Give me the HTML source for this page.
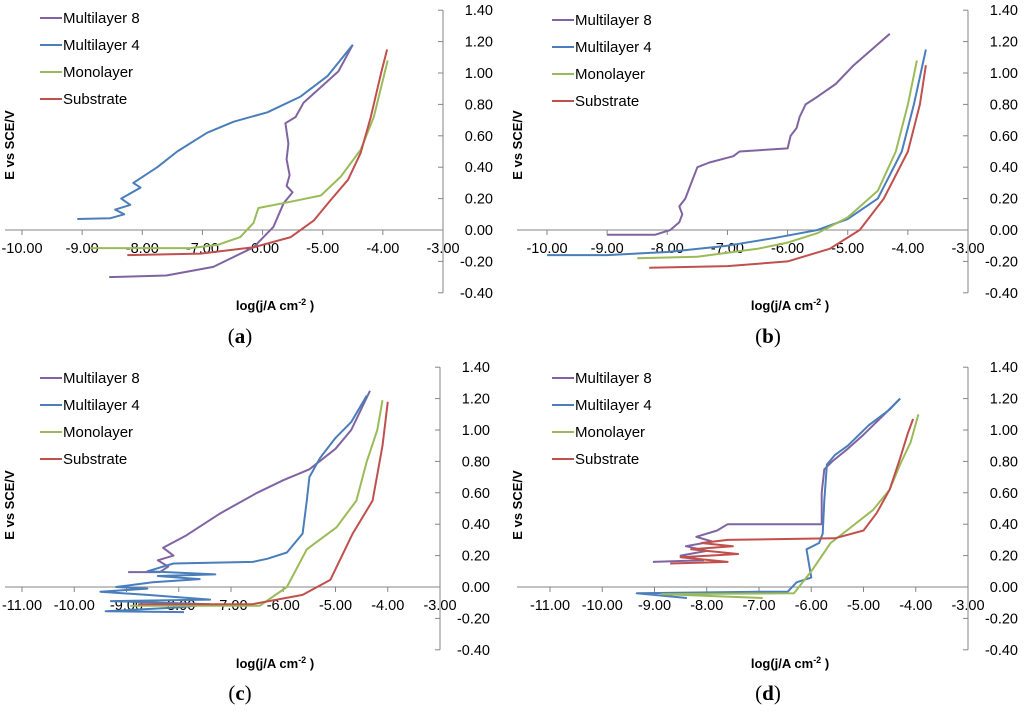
<!DOCTYPE html>
<html><head><meta charset="utf-8">
<style>
body{margin:0;background:#fff;}
svg{display:block;font-family:"Liberation Sans",sans-serif;}
</style></head>
<body>
<svg id="chart" width="1024" height="718" viewBox="0 0 1024 718"></svg>
<script>
// Panel (a)
const aM8x=[-8.55,-7.6,-6.82,-6.15,-5.82,-5.65,-5.5,-5.6,-5.55,-5.6,-5.57,-5.62,-5.45,-5.32,-5.03,-4.74,-4.5];
const aM8y=[-0.30,-0.29,-0.235,-0.11,0.02,0.17,0.24,0.28,0.35,0.45,0.55,0.68,0.72,0.81,0.91,1.01,1.18];
const aM4x=[-9.08,-8.53,-8.3,-8.45,-8.2,-8.35,-8.03,-8.15,-7.75,-7.42,-6.92,-6.48,-5.92,-5.37,-4.92,-4.5];
const aM4y=[0.07,0.075,0.1,0.13,0.16,0.2,0.27,0.3,0.4,0.5,0.62,0.69,0.75,0.85,0.98,1.18];
const aMox=[-8.87,-7.2,-6.75,-6.37,-6.15,-6.07,-5.53,-5.03,-4.7,-4.37,-4.15,-3.92];
const aMoy=[-0.115,-0.115,-0.095,-0.045,0.045,0.14,0.18,0.22,0.34,0.51,0.72,1.08];
const aSux=[-8.25,-7.03,-6.15,-5.53,-5.15,-4.87,-4.58,-4.37,-4.2,-4.03,-3.93];
const aSuy=[-0.16,-0.15,-0.11,-0.045,0.06,0.19,0.32,0.49,0.72,1.0,1.15];
// Panel (b)
const bM8x=[-9.0,-8.2,-7.95,-7.8,-7.75,-7.8,-7.7,-7.6,-7.5,-7.3,-6.9,-6.8,-6.0,-5.95,-5.85,-5.8,-5.7,-5.5,-5.2,-4.9,-4.6,-4.3];
const bM8y=[-0.03,-0.03,0.0,0.05,0.1,0.15,0.2,0.3,0.4,0.43,0.47,0.5,0.52,0.6,0.65,0.72,0.8,0.85,0.93,1.05,1.15,1.25];
const bM4x=[-10,-9,-8,-7,-6.2,-5.5,-5.0,-4.5,-4.1,-3.9,-3.7];
const bM4y=[-0.16,-0.16,-0.14,-0.1,-0.05,0.0,0.07,0.2,0.5,0.8,1.15];
const bMox=[-8.5,-7.5,-6.5,-6.0,-5.5,-5.0,-4.5,-4.2,-4.0,-3.85];
const bMoy=[-0.18,-0.17,-0.12,-0.08,-0.02,0.08,0.25,0.5,0.8,1.08];
const bSux=[-8.3,-7.0,-6.0,-5.3,-4.8,-4.4,-4.0,-3.8,-3.7];
const bSuy=[-0.24,-0.23,-0.2,-0.12,0.0,0.2,0.5,0.8,1.05];
// Panel (c)
const cM8x=[-8.97,-8.36,-8.2,-8.4,-8.1,-8.3,-7.85,-7.2,-6.5,-6.0,-5.5,-5.0,-4.7,-4.34];
const cM8y=[0.095,0.095,0.13,0.17,0.2,0.25,0.33,0.47,0.6,0.68,0.75,0.88,1.0,1.25];
const cM4x=[-7.9,-9.4,-8.0,-7.4,-9.3,-7.4,-8.6,-9.5,-8.6,-9.2,-8.5,-7.6,-8.4,-7.3,-8.6,-8.1,-6.58,-6.3,-5.93,-5.63,-5.55,-5.5,-5.3,-5.0,-4.7,-4.4];
const cM4y=[-0.16,-0.155,-0.13,-0.11,-0.09,-0.08,-0.05,-0.03,-0.01,0.0,0.03,0.05,0.07,0.08,0.1,0.15,0.16,0.18,0.22,0.34,0.55,0.7,0.82,0.95,1.05,1.22];
const cMox=[-8.93,-6.45,-5.93,-5.55,-4.98,-4.6,-4.4,-4.2,-4.1];
const cMoy=[-0.12,-0.12,0.0,0.24,0.38,0.55,0.8,1.0,1.19];
const cSux=[-8.78,-6.6,-5.63,-5.1,-4.67,-4.29,-4.1,-4.0];
const cSuy=[-0.11,-0.11,-0.05,0.045,0.34,0.55,0.9,1.18];
// Panel (d)
const dM8x=[-9.03,-8.07,-8.5,-8.0,-8.4,-7.9,-8.2,-7.8,-7.6,-5.8,-5.8,-5.75,-5.6,-5.3,-5.0,-4.6,-4.3];
const dM8y=[0.16,0.17,0.2,0.23,0.26,0.29,0.32,0.36,0.40,0.40,0.6,0.75,0.8,0.88,0.97,1.1,1.2];
const dM4x=[-8.38,-9.34,-7.0,-6.45,-6.28,-6.0,-6.09,-5.85,-5.78,-5.75,-5.7,-5.55,-5.3,-4.9,-4.5,-4.3];
const dM4y=[-0.07,-0.04,-0.03,-0.03,0.03,0.06,0.24,0.28,0.34,0.55,0.78,0.84,0.9,1.03,1.13,1.2];
const dMox=[-6.93,-8.86,-6.33,-6.0,-5.63,-5.32,-4.82,-4.5,-4.3,-4.1,-3.95];
const dMoy=[-0.07,-0.045,-0.04,0.1,0.28,0.36,0.49,0.62,0.78,0.92,1.1];
const dSux=[-8.7,-7.6,-8.5,-7.4,-8.3,-7.5,-8.1,-7.6,-5.55,-5.0,-4.75,-4.5,-4.3,-4.15,-4.05];
const dSuy=[0.15,0.16,0.19,0.21,0.24,0.26,0.28,0.30,0.31,0.36,0.47,0.62,0.82,0.98,1.07];

const yTicks=["1.40","1.20","1.00","0.80","0.60","0.40","0.20","0.00","-0.20","-0.40"];
const legendNames=["Multilayer 8","Multilayer 4","Monolayer","Substrate"];
const colors=["#8064A2","#4A7EBB","#9BBB59","#C0504D"];
const NS="http://www.w3.org/2000/svg";
const svg=document.getElementById('chart');
function mk(tag,attrs,parent,text){const e=document.createElementNS(NS,tag);for(const k in attrs)e.setAttribute(k,attrs[k]);if(text!==undefined)e.textContent=text;(parent||svg).appendChild(e);return e;}

const panels=[
 {id:'a',xmin:-10,xmax:-3,x0:22,x1:443,y0:230,ox:0,series:[[aM8x,aM8y],[aM4x,aM4y],[aMox,aMoy],[aSux,aSuy]],ly:18,title:[240,343],xt:[275,310],yt:[34,145]},
 {id:'b',xmin:-10,xmax:-3,x0:547,x1:968,y0:230,ox:512,series:[[bM8x,bM8y],[bM4x,bM4y],[bMox,bMoy],[bSux,bSuy]],ly:20,title:[768,343],xt:[790,310],yt:[542,145]},
 {id:'c',xmin:-11,xmax:-3,x0:22,x1:440,y0:587,ox:0,series:[[cM8x,cM8y],[cM4x,cM4y],[cMox,cMoy],[cSux,cSuy]],ly:378,title:[240,700],xt:[275,668],yt:[34,505]},
 {id:'d',xmin:-11,xmax:-3,x0:550,x1:968,y0:587,ox:512,series:[[dM8x,dM8y],[dM4x,dM4y],[dMox,dMoy],[dSux,dSuy]],ly:378,title:[768,700],xt:[790,668],yt:[542,505]}
];
const PPV=157;
panels.forEach(p=>{
 const g=mk('g',{});
 
 
 const sx=v=>p.x0+(v-p.xmin)*(p.x1-p.x0)/(p.xmax-p.xmin);
 const sy=v=>p.y0-v*PPV;
 const xa=mk('line',{x1:p.ox+5,x2:p.x1,y1:p.y0,y2:p.y0,stroke:'#868686','stroke-width':1},g);
 
 
 for(let v=p.xmin;v<=p.xmax;v++){
  mk('line',{x1:sx(v),x2:sx(v),y1:p.y0,y2:p.y0+5,stroke:'#868686'},g);
  const t=mk('text',{x:sx(v),y:p.y0+23,'text-anchor':'middle','font-size':14.5,fill:'#000'},g,v.toFixed(2));
  
  
 }
 const ya=mk('line',{x1:p.x1,x2:p.x1,y1:sy(1.4),y2:sy(-0.4),stroke:'#868686'},g);
 
 
 yTicks.forEach(s=>{const v=parseFloat(s);
  mk('line',{x1:p.x1-5,x2:p.x1,y1:sy(v),y2:sy(v),stroke:'#868686'},g);
  const t=mk('text',{x:p.x1+50,y:sy(v)+5,'text-anchor':'end','font-size':14.5,fill:'#000'},g,s);
  
  
 });
 p.series.forEach((s,i)=>{
  const pts=s[0].map((x,k)=>sx(x).toFixed(1)+','+sy(s[1][k]).toFixed(1)).join(' ');
  const pl=mk('polyline',{points:pts,fill:'none',stroke:colors[i],'stroke-width':2,'stroke-linejoin':'round'},g);
  
  
 });
 legendNames.forEach((n,i)=>{
  const y=p.ly+i*27;
  const lg=mk('g',{},g);
  
  
  mk('line',{x1:p.ox+40,x2:p.ox+62,y1:y,y2:y,stroke:colors[i],'stroke-width':2},lg);
  mk('text',{x:p.ox+63,y:y+5,'font-size':15,fill:'#000'},lg,n);
 });
 const yt=mk('text',{x:p.yt[0]-20,y:p.yt[1],'font-size':13,'font-weight':'bold','text-anchor':'middle',transform:`rotate(-90 ${p.yt[0]-20} ${p.yt[1]})`},g,'E vs SCE/V');
 
 
 const xt=mk('text',{x:p.xt[0],y:p.xt[1],'font-size':13,'font-weight':'bold','text-anchor':'middle'},g);
 
 
 xt.appendChild(document.createTextNode('log(j/A cm'));
 mk('tspan',{dy:-5,'font-size':9},xt,'-2');
 mk('tspan',{dy:5},xt,' )');
 const tt=mk('text',{x:p.title[0],y:p.title[1],'font-size':21,'font-family':'"Liberation Serif",serif','text-anchor':'middle'},g);
 
 
 tt.appendChild(document.createTextNode('('));
 mk('tspan',{'font-weight':'bold'},tt,p.id);
 tt.appendChild(document.createTextNode(')'));
});
</script>
</body></html>
